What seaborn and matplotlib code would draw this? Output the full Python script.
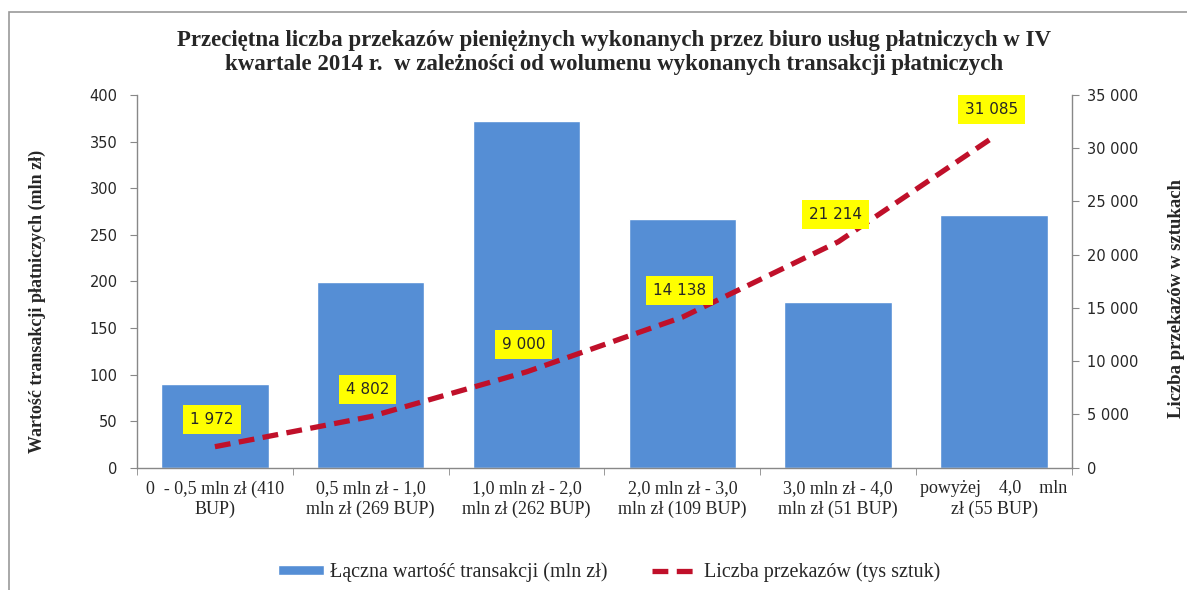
import numpy as np
import pandas as pd
import matplotlib.pyplot as plt
import seaborn as sns
from matplotlib.ticker import FuncFormatter, FixedLocator
from matplotlib.patches import Rectangle

# dane z wykresu
kategorie = ['0  - 0,5 mln zł (410\nBUP)', '0,5 mln zł - 1,0\nmln zł (269 BUP)',
             '1,0 mln zł - 2,0\nmln zł (262 BUP)', '2,0 mln zł - 3,0\nmln zł (109 BUP)',
             '3,0 mln zł - 4,0\nmln zł (51 BUP)', 'powyżej    4,0    mln\nzł (55 BUP)']
wartosc = [90, 199, 372, 267, 178, 271]
przekazy = [1972, 4802, 9000, 14138, 21214, 31085]
etykiety = ['1 972', '4 802', '9 000', '14 138', '21 214', '31 085']

sns.set_style('white')
plt.rcParams['font.family'] = ['Liberation Serif', 'DejaVu Serif']

df = pd.DataFrame({'kat': kategorie, 'wartosc': wartosc, 'przekazy': przekazy})

fig = plt.figure(figsize=(11.87, 5.90), dpi=100)
ax = fig.add_axes([0.1154, 0.2073, 0.7877, 0.6317])

sns.barplot(data=df, x='kat', y='wartosc', color='#558ED5', saturation=1,
            width=0.69, ax=ax, label='Łączna wartość transakcji (mln zł)')
ax.set_ylim(0, 400)
ax.set_xlim(-0.5, 5.5)
ax.set_yticks(range(0, 401, 50))
ax.set_xlabel('')
ax.set_ylabel('Wartość transakcji płatniczych (mln zł)', fontsize=13, fontweight='bold')
ax.yaxis.set_label_coords(-0.097, 0.445)
ax.tick_params(axis='x', length=0, pad=9, labelsize=13)
ax.xaxis.set_minor_locator(FixedLocator(np.arange(-0.5, 6, 1)))
ax.tick_params(axis='x', which='minor', length=5, color='#888888', bottom=True)
ax.tick_params(axis='y', length=5, color='#888888', labelsize=10.5, pad=9, left=True)
for t in ax.get_yticklabels():
    t.set_family('DejaVu Sans')
for t in ax.get_xticklabels():
    t.set_linespacing(1.25)

ax2 = ax.twinx()
sns.lineplot(x=np.arange(len(przekazy)), y=przekazy, ax=ax2, color='#C0102A',
             linewidth=3.8, linestyle=(0, (3, 1.6)), sort=False,
             label='Liczba przekazów (tys sztuk)')
ax2.set_ylim(0, 35000)
ax2.set_xlim(-0.5, 5.5)
ax2.set_yticks(range(0, 35001, 5000))
ax2.yaxis.set_major_formatter(FuncFormatter(lambda v, p: f'{int(v):,}'.replace(',', ' ')))
ax2.set_ylabel('Liczba przekazów w sztukach', fontsize=13.5, fontweight='bold')
ax2.yaxis.set_label_coords(1.103, 0.455)
ax2.tick_params(axis='y', length=5, color='#888888', labelsize=10.5, pad=6, right=True)
for t in ax2.get_yticklabels():
    t.set_family('DejaVu Sans')

for i, (v, s) in enumerate(zip(przekazy, etykiety)):
    ax2.annotate(s, (i, v), xytext=(-3, 27), textcoords='offset pixels',
                 ha='center', va='center', fontsize=11, family='DejaVu Sans',
                 bbox=dict(boxstyle='square,pad=0.45', fc='#FFFF00', ec='none'))

for a in (ax, ax2):
    a.spines['top'].set_visible(False)
    for sp in ('left', 'right', 'bottom'):
        a.spines[sp].set_color('#888888')
        a.spines[sp].set_linewidth(1)
ax.spines['right'].set_visible(False)
ax2.spines['left'].set_visible(False)
ax2.spines['bottom'].set_visible(False)

# legenda
h1, l1 = ax.get_legend_handles_labels()
h2, l2 = ax2.get_legend_handles_labels()
if ax.get_legend():
    ax.get_legend().remove()
if ax2.get_legend():
    ax2.get_legend().remove()
fig.legend(h1 + h2, l1 + l2, loc='center', bbox_to_anchor=(0.513, 0.030), ncol=2,
           frameon=False, fontsize=14.5, handlelength=2.3, handletextpad=0.3,
           columnspacing=2.2, handleheight=0.33)

fig.text(0.517, 0.911, 'Przeciętna liczba przekazów pieniężnych wykonanych przez biuro usług płatniczych w IV\n'
         'kwartale 2014 r.  w zależności od wolumenu wykonanych transakcji płatniczych',
         ha='center', va='center', fontsize=16.5, fontweight='bold', linespacing=1.2)

fig.patches.append(Rectangle((9 / 1187, -0.02), 1.0, 1 - 12 / 590 + 0.02,
                             transform=fig.transFigure, fill=False,
                             ec='#999999', lw=1.2))

plt.savefig('out.png', dpi=100)
plt.close()
